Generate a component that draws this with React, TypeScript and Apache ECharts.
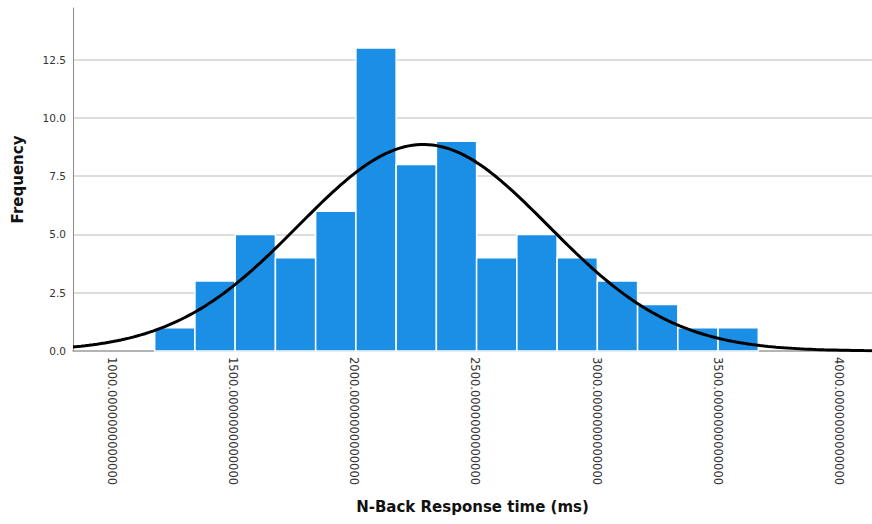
import React, { useEffect, useRef } from "react";
import * as echarts from "echarts";

// Histogram bins (ms)
const BIN_START = 1177;
const BIN_WIDTH = 166;
const BIN_COUNTS = [1, 3, 5, 4, 6, 13, 8, 9, 4, 5, 4, 3, 2, 1, 1];

// Axis settings
const X_MIN = 840;
const X_MAX = 4136;
const X_STEP = 500;
const Y_MAX = 14.72;
const Y_STEP = 2.5;

const X_TITLE = "N-Back Response time (ms)";
const Y_TITLE = "Frequency";

// Normal curve fitted to the histogram (mean / sd derived from the bins)
function normalCurve(): number[][] {
  const n = BIN_COUNTS.reduce((a, b) => a + b, 0);
  const mids = BIN_COUNTS.map((_, i) => BIN_START + (i + 0.5) * BIN_WIDTH);
  const mean = mids.reduce((s, m, i) => s + m * BIN_COUNTS[i], 0) / n;
  const variance =
    mids.reduce((s, m, i) => s + (m - mean) * (m - mean) * BIN_COUNTS[i], 0) / (n - 1);
  const sd = Math.sqrt(variance);
  const scale = (n * BIN_WIDTH) / (sd * Math.sqrt(2 * Math.PI));
  const pts: number[][] = [];
  const steps = 200;
  for (let k = 0; k <= steps; k++) {
    const x = X_MIN + ((X_MAX - X_MIN) * k) / steps;
    const z = (x - mean) / sd;
    pts.push([x, scale * Math.exp(-0.5 * z * z)]);
  }
  return pts;
}

const FONT = "DejaVu Sans";

export default function App() {
  const ref = useRef<HTMLDivElement>(null);

  useEffect(() => {
    document.body.style.margin = "0";
    if (!ref.current) return;
    const chart = echarts.init(ref.current, undefined, { renderer: "svg" });

    const barData = BIN_COUNTS.map((c, i) => [
      BIN_START + i * BIN_WIDTH,
      BIN_START + (i + 1) * BIN_WIDTH,
      c,
    ]);

    chart.setOption({
      animation: false,
      backgroundColor: "#ffffff",
      grid: { left: 73, right: 0, top: 8, bottom: 173, containLabel: false },
      xAxis: {
        type: "value",
        min: X_MIN,
        max: X_MAX,
        minInterval: X_STEP,
        maxInterval: X_STEP,
        name: X_TITLE,
        nameLocation: "middle",
        nameGap: 148,
        nameTextStyle: {
          fontFamily: FONT,
          fontSize: 15,
          fontWeight: "bold",
          color: "#111",
        },
        axisLine: { show: true, onZero: false, lineStyle: { color: "#9a9a9a", width: 1.5 } },
        axisTick: { show: false },
        splitLine: { show: false },
        axisLabel: {
          rotate: -90,
          margin: 6,
          fontFamily: FONT,
          fontSize: 11.5,
          color: "#333",
          showMinLabel: false,
          showMaxLabel: false,
          formatter: (v: number) => (v % X_STEP === 0 ? v.toFixed(13) : ""),
        },
      },
      yAxis: {
        type: "value",
        min: 0,
        max: Y_MAX,
        interval: Y_STEP,
        name: Y_TITLE,
        nameLocation: "middle",
        nameGap: 48,
        nameTextStyle: {
          fontFamily: FONT,
          fontSize: 15,
          fontWeight: "bold",
          color: "#111",
        },
        axisLine: { show: true, lineStyle: { color: "#8a8a8a", width: 1 } },
        axisTick: { show: false },
        splitLine: {
          show: true,
          showMinLine: false,
          showMaxLine: false,
          lineStyle: { color: "#d2d2d2", width: 1.5 },
        },
        axisLabel: {
          margin: 7,
          fontFamily: FONT,
          fontSize: 10.5,
          color: "#333",
          showMaxLabel: false,
          formatter: (v: number) => (v % Y_STEP === 0 ? v.toFixed(1) : ""),
        },
      },
      series: [
        {
          type: "custom",
          z: 2,
          data: barData,
          encode: { x: [0, 1], y: 2 },
          renderItem: (params: any, api: any) => {
            const x0 = api.value(0);
            const x1 = api.value(1);
            const y = api.value(2);
            const p0 = api.coord([x0, y]);
            const p1 = api.coord([x1, 0]);
            return {
              type: "rect",
              shape: { x: p0[0], y: p0[1], width: p1[0] - p0[0], height: p1[1] - p0[1] },
              style: { fill: "#1a8fe5", stroke: "#ffffff", lineWidth: 1.5 },
            };
          },
        },
        {
          type: "line",
          z: 3,
          data: normalCurve(),
          showSymbol: false,
          smooth: false,
          lineStyle: { color: "#000000", width: 3 },
          clip: true,
        },
      ],
    });

    return () => chart.dispose();
  }, []);

  return <div ref={ref} style={{ width: 872, height: 524 }} />;
}
